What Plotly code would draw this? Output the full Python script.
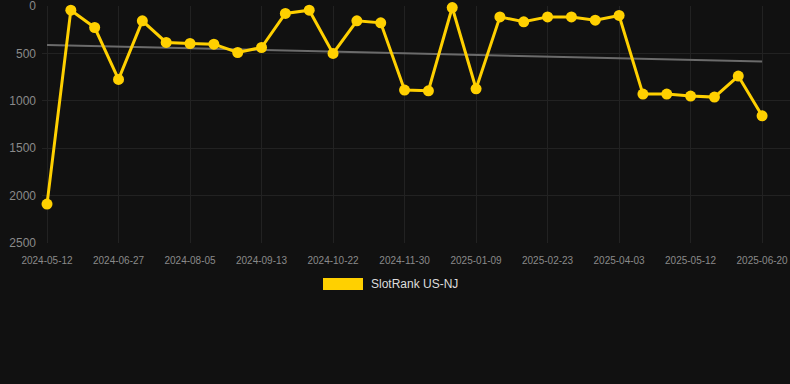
import numpy as np
import plotly.graph_objects as go

dates = ["2024-05-12", "2024-05-27", "2024-06-12", "2024-06-27", "2024-07-10", "2024-07-23",
         "2024-08-05", "2024-08-18", "2024-08-31", "2024-09-13", "2024-09-26", "2024-10-09",
         "2024-10-22", "2024-11-04", "2024-11-17", "2024-11-30", "2024-12-13", "2024-12-27",
         "2025-01-09", "2025-01-24", "2025-02-08", "2025-02-23", "2025-03-08", "2025-03-21",
         "2025-04-03", "2025-04-16", "2025-04-29", "2025-05-12", "2025-05-25", "2025-06-07",
         "2025-06-20"]
rank = [2089, 42, 225, 773, 155, 383, 394, 401, 489, 436, 77, 42, 499, 155, 176,
        886, 893, 14, 872, 113, 165, 113, 113, 148, 98, 928, 928, 949, 960, 738, 1157]
tick_labels = dates[::3]
y_ticks = [0, 500, 1000, 1500, 2000, 2500]
series_name = "SlotRank US-NJ"

idx = np.arange(len(rank))
slope, intercept = np.polyfit(idx, rank, 1)
trend = [intercept, intercept + slope * idx[-1]]
trend_x = [dates[0], dates[-1]]

fig = go.Figure()
fig.add_trace(go.Scatter(x=dates, y=rank, mode="lines+markers", name=series_name,
                         line=dict(color="#FFD000", width=3),
                         marker=dict(color="#FFD000", size=11),
                         cliponaxis=False, showlegend=False))
fig.add_trace(go.Scatter(x=trend_x, y=trend, mode="lines",
                         line=dict(color="#6b6b6b", width=2), showlegend=False,
                         hoverinfo="skip"))
# draw the trend line beneath the series
fig.data = (fig.data[1], fig.data[0])

fig.update_layout(
    width=790, height=384,
    margin=dict(l=42, r=0, t=6, b=141),
    paper_bgcolor="#111111", plot_bgcolor="#111111",
    font=dict(family="Liberation Sans, Arial, sans-serif"),
    xaxis=dict(type="category", categoryorder="array", categoryarray=dates,
               range=[-0.21, 31.17], tickmode="array",
               tickvals=tick_labels, ticktext=tick_labels,
               tickfont=dict(size=10, color="#8a8a8a"),
               showgrid=True, gridcolor="#222222", gridwidth=1,
               zeroline=False, showline=False, ticks="", ticklabelstandoff=10,
               ticklabeloverflow="allow"),
    yaxis=dict(range=[2500, -2], tickmode="array", tickvals=y_ticks,
               tickfont=dict(size=12, color="#8a8a8a"),
               showgrid=True, gridcolor="#222222", gridwidth=1,
               zeroline=False, showline=False, ticks="", ticklabelstandoff=5,
               ticklabeloverflow="allow"),
    showlegend=False,
    shapes=[dict(type="rect", xref="paper", yref="paper",
                 x0=(323 - 42) / 748, x1=(363 - 42) / 748,
                 y0=(243 - 290) / 237, y1=(243 - 278) / 237,
                 fillcolor="#FFD000", line=dict(width=0))],
    annotations=[dict(text=series_name, xref="paper", yref="paper",
                      x=(369 - 42) / 748, y=(243 - 284) / 237,
                      xanchor="left", yanchor="middle", showarrow=False,
                      font=dict(size=12, color="#dddddd"))],
)

fig.write_html("out.html", config={"displayModeBar": False},
               post_script="document.body.style.margin='0';")
